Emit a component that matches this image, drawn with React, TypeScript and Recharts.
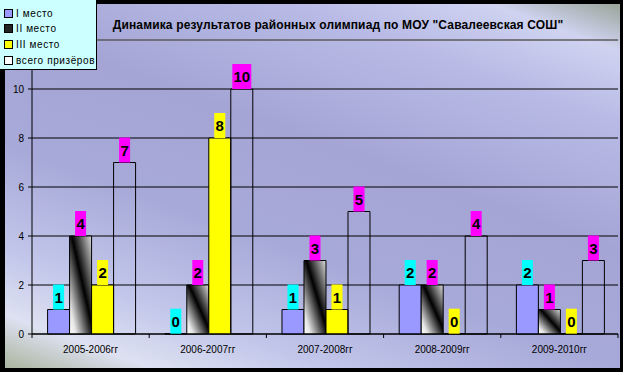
import React from 'react';
import {
  BarChart,
  Bar,
  XAxis,
  YAxis,
  CartesianGrid,
  LabelList,
  ReferenceLine,
} from 'recharts';

const categories = ['2005-2006гг', '2006-2007гг', '2007-2008гг', '2008-2009гг', '2009-2010гг'];
const firstPlace = [1, 0, 1, 2, 2];
const secondPlace = [4, 2, 3, 2, 1];
const thirdPlace = [2, 8, 1, 0, 0];
const totalWinners = [7, 10, 5, 4, 3];
// отметка 12 спрятана под легендой, поэтому подписываем только до 10
const yTicks = [0, 2, 4, 6, 8, 10];
const yMax = 12;

const W = 623;
const H = 372;
const FONT = 'Arial, "Liberation Sans", sans-serif';
// ширина одной категории по оси X (для засечек между группами)
const PLOT_LEFT = 32;
const PLOT_RIGHT = 5;
const BAND = (W - PLOT_LEFT - PLOT_RIGHT) / categories.length;
const X_TICK_SIZE = 4;
const X_TICK_MARGIN = 8;

const data = categories.map((name, i) => ({
  name,
  first: firstPlace[i],
  second: secondPlace[i],
  third: thirdPlace[i],
  total: totalWinners[i],
}));

const series = [
  { key: 'first', name: 'I место', fill: '#9999FF', labelBg: '#00FFFF', marker: '#9999FF' },
  { key: 'second', name: 'II место', fill: 'url(#secondGrad)', labelBg: '#FF00FF', marker: '#222222' },
  { key: 'third', name: 'III место', fill: '#FFFF00', labelBg: '#FFFF00', marker: '#FFFF00' },
  { key: 'total', name: 'всего призёров', fill: 'none', labelBg: '#FF00FF', marker: '#FFFFFF' },
];

const makeLabel = (bg: string) => (props: any) => {
  const { x, y, width, height, value } = props;
  const text = String(value);
  const w = text.length * 8 + 3;
  const h = 25;
  const cx = Number(x) + Number(width) / 2;
  // верх столбца (для нулевых значений — ось)
  const barTop = Math.min(Number(y), Number(y) + Number(height || 0));
  const top = barTop - h;
  return (
    <g>
      <rect x={cx - w / 2} y={top} width={w} height={h} fill={bg} />
      <text
        x={cx}
        y={top + h / 2}
        textAnchor="middle"
        dominantBaseline="central"
        fontSize={15}
        fontWeight="bold"
        fontFamily={FONT}
        fill="#000"
      >
        {text}
      </text>
    </g>
  );
};

// подпись категории + засечки на границах групп
const CategoryTick = (props: any) => {
  const { x, y, payload, index } = props;
  const axisY = y - X_TICK_SIZE - X_TICK_MARGIN;
  return (
    <g>
      <line x1={x - BAND / 2} y1={axisY} x2={x - BAND / 2} y2={axisY + 4} stroke="#000" />
      {index === categories.length - 1 && (
        <line x1={x + BAND / 2} y1={axisY} x2={x + BAND / 2} y2={axisY + 4} stroke="#000" />
      )}
      <text x={x} y={y} dy="0.71em" textAnchor="middle" fontSize={10} fontFamily={FONT} fill="#000">
        {payload.value}
      </text>
    </g>
  );
};

// нулевые значения тоже должны получить подпись на оси
const zeroPointSize = (value: number) => (value === 0 ? 0.3 : 0);

const App: React.FC = () => {
  return (
    <div
      style={{
        position: 'absolute',
        left: 0,
        top: 0,
        width: W,
        height: H,
        background: '#000',
        fontFamily: FONT,
        overflow: 'hidden',
      }}
    >
      <div
        style={{
          position: 'absolute',
          left: 5,
          top: 4,
          right: 3,
          bottom: 4,
          background:
            'linear-gradient(200deg, #9aa59a 0%, #cfd3f0 8%, #b9bbe6 20%, #a4a5d5 42%, #a7a9d8 62%, #c2c6ea 80%, #dde1f1 91%, #aab59f 100%)',
        }}
      />
      <div
        style={{
          position: 'absolute',
          left: 0,
          width: W,
          top: 18,
          textAlign: 'center',
          paddingLeft: 53,
          boxSizing: 'border-box',
          fontSize: 12,
          letterSpacing: 0.15,
          fontWeight: 'bold',
          color: '#000',
          whiteSpace: 'nowrap',
        }}
      >
        Динамика результатов районных олимпиад по МОУ "Савалеевская СОШ"
      </div>
      <BarChart
        width={W}
        height={H}
        data={data}
        margin={{ top: 40, right: PLOT_RIGHT, bottom: 8, left: 5 }}
        barCategoryGap="13.3%"
        barGap={0}
        style={{ position: 'absolute', left: 0, top: 0 }}
      >
        <defs>
          <linearGradient id="secondGrad" x1="0" y1="1" x2="1" y2="0">
            <stop offset="0" stopColor="#ffffff" />
            <stop offset="0.15" stopColor="#e6e6e6" />
            <stop offset="0.55" stopColor="#000000" />
            <stop offset="1" stopColor="#dcdcdc" />
          </linearGradient>
        </defs>
        <CartesianGrid vertical={false} stroke="#000" strokeOpacity={1} />
        <ReferenceLine y={yMax} stroke="#8a8a8a" />
        <XAxis
          dataKey="name"
          height={30}
          axisLine={{ stroke: '#000' }}
          tickLine={false}
          tickSize={X_TICK_SIZE}
          tickMargin={X_TICK_MARGIN}
          interval={0}
          tick={<CategoryTick />}
        />
        <YAxis
          width={27}
          domain={[0, yMax]}
          ticks={yTicks}
          interval={0}
          axisLine={{ stroke: '#000' }}
          tickLine={{ stroke: '#000' }}
          tickSize={4}
          tickMargin={4}
          tick={{ fontSize: 10, fill: '#000', fontFamily: FONT }}
        />
        {series.map((s) => (
          <Bar
            key={s.key}
            dataKey={s.key}
            name={s.name}
            fill={s.fill}
            stroke="#000"
            strokeWidth={1}
            minPointSize={zeroPointSize}
            isAnimationActive={false}
          >
            <LabelList dataKey={s.key} content={makeLabel(s.labelBg)} />
          </Bar>
        ))}
      </BarChart>
      <div
        style={{
          position: 'absolute',
          left: 0,
          top: 0,
          width: 97,
          height: 70,
          background: '#CCFFFF',
          border: '1px solid #000',
          borderLeft: 'none',
          borderTop: 'none',
          boxSizing: 'border-box',
        }}
      >
        {series.map((s, i) => (
          <div
            key={s.key}
            style={{
              position: 'absolute',
              left: 4,
              top: 8 + i * 15.8,
              height: 10,
              display: 'flex',
              alignItems: 'center',
              fontSize: 10,
              letterSpacing: 0.6,
              color: '#000',
              whiteSpace: 'nowrap',
            }}
          >
            <span
              style={{
                display: 'inline-block',
                width: 7,
                height: 7,
                background: s.marker,
                border: '1px solid #000',
                marginRight: 3,
                boxSizing: 'content-box',
              }}
            />
            {s.name}
          </div>
        ))}
      </div>
    </div>
  );
};

export default App;
